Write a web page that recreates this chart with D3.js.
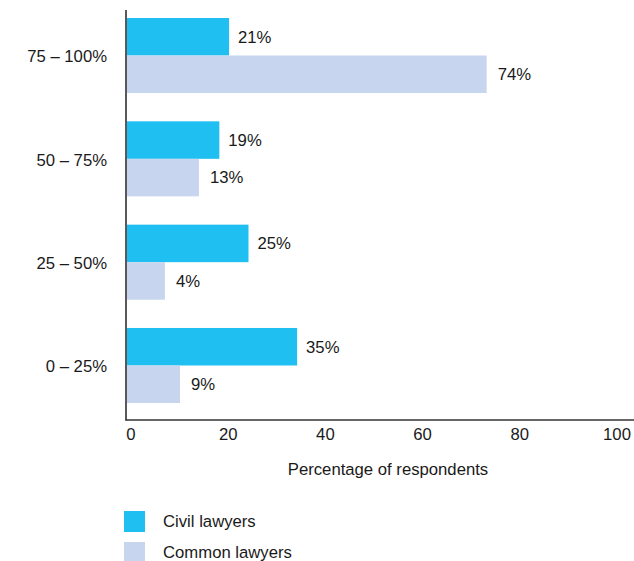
<!DOCTYPE html>
<html>
<head>
<meta charset="utf-8">
<script src="https://cdn.jsdelivr.net/npm/d3@7"></script>
<style>
  body { margin: 0; background: #fff; }
  text { font-family: "Liberation Sans", Arial, sans-serif; fill: #1a1a1a; }
</style>
</head>
<body>
<div id="chart"></div>
<script>
/* DATA */
const categories = ["75 – 100%", "50 – 75%", "25 – 50%", "0 – 25%"];
// bar lengths as drawn in the picture
const civilValues = [21, 19, 25, 35];
const commonValues = [74, 14.8, 7.8, 10.9];
// printed labels
const civilLabels = ["21%", "19%", "25%", "35%"];
const commonLabels = ["74%", "13%", "4%", "9%"];
const xTicks = [0, 20, 40, 60, 80, 100];
const seriesNames = ["Civil lawyers", "Common lawyers"];
const colors = ["#1fbff1", "#c7d5ee"];

/* CONSTANTS */
const width = 634, height = 561;
const fontSize = 16.7;

const svg = d3.select("#chart").append("svg")
  .attr("width", width)
  .attr("height", height);

const xScale = d3.scaleLinear()
  .domain([0, 100])
  .range([127, 613]);

const yScale = d3.scaleBand()
  .domain(categories)
  .range([18, 403])
  .paddingInner(0.274)
  .paddingOuter(0);

const sub = d3.scaleBand()
  .domain(seriesNames)
  .range([0, yScale.bandwidth()]);

const rows = categories.map((c, i) => ({
  cat: c,
  bars: [
    { s: seriesNames[0], v: civilValues[i], label: civilLabels[i], off: 9 },
    { s: seriesNames[1], v: commonValues[i], label: commonLabels[i], off: 11 }
  ]
}));

const groups = svg.selectAll("g.row")
  .data(rows)
  .join("g")
  .attr("class", "row")
  .attr("transform", d => `translate(0, ${yScale(d.cat)})`);

groups.selectAll("rect")
  .data(d => d.bars)
  .join("rect")
  .attr("x", xScale(0))
  .attr("y", d => sub(d.s))
  .attr("width", d => xScale(d.v) - xScale(0))
  .attr("height", sub.bandwidth())
  .attr("fill", (d, i) => colors[i]);

groups.selectAll("text.val")
  .data(d => d.bars)
  .join("text")
  .attr("class", "val")
  .attr("x", d => xScale(d.v) + d.off)
  .attr("y", d => sub(d.s) + sub.bandwidth() / 2)
  .attr("dy", "0.35em")
  .attr("font-size", fontSize)
  .text(d => d.label);

// category labels
svg.selectAll("text.cat")
  .data(categories)
  .join("text")
  .attr("class", "cat")
  .attr("x", 107)
  .attr("y", d => yScale(d) + yScale.bandwidth() / 2 + 1)
  .attr("dy", "0.35em")
  .attr("text-anchor", "end")
  .attr("font-size", fontSize)
  .text(d => d);

// axes lines
svg.append("line")
  .attr("x1", 126).attr("x2", 126)
  .attr("y1", 10).attr("y2", 420.5)
  .attr("stroke", "#222").attr("stroke-width", 1.5);

svg.append("line")
  .attr("x1", 125.5).attr("x2", width)
  .attr("y1", 420).attr("y2", 420)
  .attr("stroke", "#333").attr("stroke-width", 1.5);

// x tick labels
svg.selectAll("text.tick")
  .data(xTicks)
  .join("text")
  .attr("class", "tick")
  .attr("x", d => xScale(d) + 4)
  .attr("y", 434)
  .attr("dy", "0.35em")
  .attr("text-anchor", "middle")
  .attr("font-size", fontSize)
  .text(d => d);

svg.append("text")
  .attr("x", 388)
  .attr("y", 469)
  .attr("dy", "0.35em")
  .attr("text-anchor", "middle")
  .attr("font-size", fontSize)
  .text("Percentage of respondents");

// legend
const legend = svg.selectAll("g.legend")
  .data(seriesNames)
  .join("g")
  .attr("class", "legend")
  .attr("transform", (d, i) => `translate(124, ${511 + i * 31})`);

legend.append("rect")
  .attr("width", 21)
  .attr("height", 21)
  .attr("fill", (d, i) => colors[i]);

legend.append("text")
  .attr("x", 39)
  .attr("y", 10.5)
  .attr("dy", "0.35em")
  .attr("font-size", fontSize)
  .text(d => d);
</script>
</body>
</html>
